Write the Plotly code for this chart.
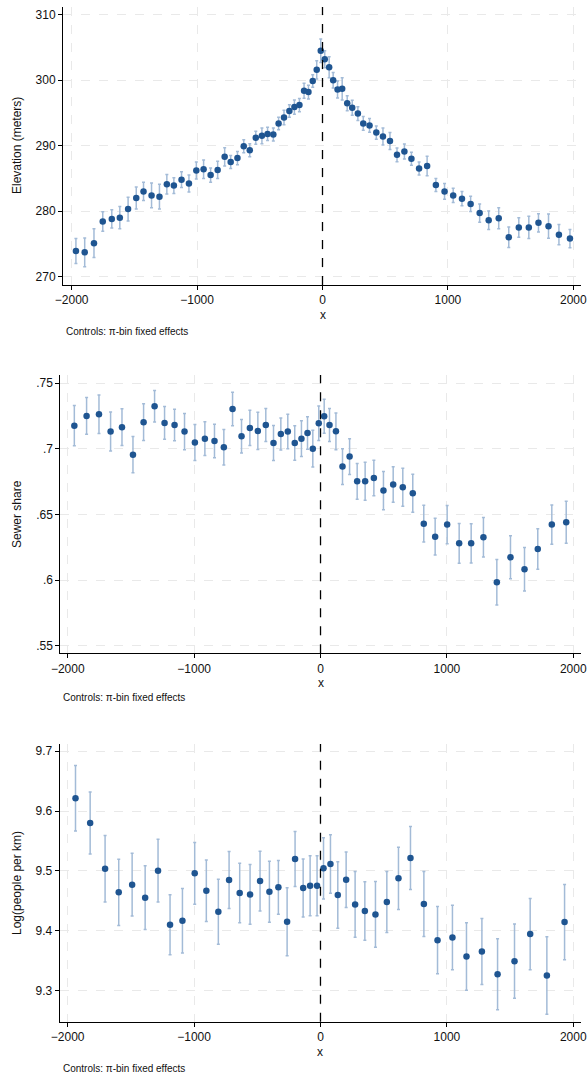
import plotly.graph_objects as go

# ---------------- data ----------------
elev_x = [-1966,-1896,-1822,-1752,-1680,-1616,-1550,-1485,-1427,-1363,
          -1300,-1241,-1185,-1124,-1065,-1006,-948,-892,-836,-780,
          -732,-678,-628,-580,-532,-483,-438,-392,-350,-307,
          -264,-224,-184,-147,-112,-78,-46,-14,18,53,
          85,120,157,197,237,282,325,375,429,482,
          538,594,653,709,770,834,904,973,1042,1112,
          1181,1253,1325,1405,1485,1565,1645,1722,1802,1885,
          1973]
elev_y = [273.9,273.7,275.1,278.4,278.8,279.0,280.3,282.0,283.0,282.4,
          282.2,284.1,283.9,284.8,284.2,286.2,286.4,285.5,286.3,288.3,
          287.5,288.1,289.9,289.3,291.2,291.5,291.8,291.7,293.4,294.3,
          295.3,295.9,296.2,298.4,298.2,299.9,301.6,304.5,303.2,302.0,
          300.0,298.6,298.7,296.5,295.8,294.9,293.4,293.1,292.0,291.4,
          290.7,288.6,289.1,288.0,286.5,286.9,284.0,283.0,282.4,281.9,
          281.1,279.7,278.6,278.9,276.0,277.5,277.5,278.2,277.7,276.4,
          275.8]
elev_ci = [1.9,2.2,2.2,1.5,1.4,1.7,1.8,1.7,1.4,1.9,
           1.9,1.5,1.2,1.2,1.3,1.3,1.4,1.1,1.3,1.4,
           1.0,1.0,1.0,1.0,1.0,1.2,1.0,1.0,0.95,1.1,
           0.95,1.1,1.0,1.15,1.05,0.95,1.4,1.8,1.3,1.6,
           1.2,1.3,1.7,1.15,1.15,1.05,1.05,1.05,1.0,1.3,
           1.3,1.05,1.15,1.0,1.0,1.5,1.0,1.2,1.1,1.1,
           1.15,1.4,1.4,1.6,1.55,1.5,1.7,1.4,1.85,1.55,
           1.4]

sewer_x = [-1948,-1851,-1753,-1661,-1571,-1484,-1400,-1313,-1234,-1155,
           -1076,-994,-915,-839,-765,-696,-625,-559,-496,-433,
           -372,-314,-259,-204,-151,-103,-61,-14,29,71,
           122,174,230,290,353,422,498,575,651,730,
           817,907,1002,1097,1192,1289,1395,1503,1614,1719,
           1830,1944]
sewer_y = [0.7177,0.7251,0.7264,0.7132,0.7165,0.6956,0.7203,0.7325,0.7198,0.7182,
           0.7132,0.7048,0.7078,0.7060,0.7012,0.7304,0.7096,0.7160,0.7137,0.7182,
           0.7045,0.7114,0.7132,0.7045,0.7078,0.7121,0.7001,0.7195,0.7249,0.7182,
           0.7134,0.6865,0.6941,0.6753,0.6753,0.6778,0.6682,0.6728,0.6707,0.6662,
           0.6430,0.6331,0.6423,0.6280,0.6280,0.6326,0.5983,0.6174,0.6082,0.6237,
           0.6423,0.6441]
sewer_ci = [0.0154,0.0140,0.0147,0.0149,0.0140,0.0138,0.0140,0.0120,0.0125,0.0120,
            0.0138,0.0137,0.0128,0.0128,0.0135,0.0128,0.0127,0.0135,0.0142,0.0126,
            0.0133,0.0122,0.0131,0.0131,0.0136,0.0123,0.0140,0.0131,0.0130,0.0125,
            0.0140,0.0136,0.0136,0.0136,0.0145,0.0135,0.0146,0.0135,0.0145,0.0145,
            0.0140,0.0140,0.0146,0.0152,0.0150,0.0151,0.0173,0.0163,0.0166,0.0155,
            0.0149,0.0160]

dens_x = [-1938,-1822,-1704,-1596,-1490,-1387,-1285,-1190,-1092,-995,
          -903,-808,-723,-639,-557,-478,-404,-333,-264,-201,
          -137,-82,-27,24,79,137,203,274,351,435,
          525,617,712,818,926,1044,1155,1277,1401,1535,
          1659,1791,1931]
dens_y = [9.6214,9.5800,9.5037,9.4641,9.4769,9.4552,9.5003,9.4100,9.4167,9.4959,
          9.4669,9.4317,9.4847,9.4630,9.4607,9.4830,9.4652,9.4725,9.4150,9.5199,
          9.4713,9.4752,9.4752,9.5042,9.5115,9.4596,9.4853,9.4440,9.4329,9.4273,
          9.4479,9.4875,9.5215,9.4446,9.3843,9.3888,9.3570,9.3654,9.3274,9.3492,
          9.3944,9.3252,9.4144]
dens_ci = [0.0547,0.0520,0.0555,0.0552,0.0524,0.0533,0.0524,0.0500,0.0540,0.0516,
           0.0513,0.0544,0.0477,0.0496,0.0500,0.0500,0.0510,0.0450,0.0570,0.0460,
           0.0485,0.0500,0.0500,0.0510,0.0490,0.0555,0.0463,0.0550,0.0490,0.0550,
           0.0510,0.0520,0.0527,0.0544,0.0563,0.0538,0.0563,0.0552,0.0594,0.0619,
           0.0594,0.0647,0.0630]

x_ticks = [-2000, -1000, 0, 1000, 2000]
elev_ticks = [270, 280, 290, 300, 310]
elev_ticktext = ["270", "280", "290", "300", "310"]
sewer_ticks = [0.55, 0.60, 0.65, 0.70, 0.75]
sewer_ticktext = [".55", ".6", ".65", ".7", ".75"]
dens_ticks = [9.3, 9.4, 9.5, 9.6, 9.7]
dens_ticktext = ["9.3", "9.4", "9.5", "9.6", "9.7"]

y_titles = ["Elevation (meters)", "Sewer share", "Log(people per km)"]
x_title = "x"
note = "Controls: \u03c0-bin fixed effects"

# ---------------- layout geometry ----------------
W, H = 587, 1076
FONT = "Liberation Sans, Arial, Helvetica, sans-serif"
MARK = "#1f5591"
BAR = "#a3bbd7"
GRID = "#e9e9e9"

panels = [
    dict(x=elev_x, y=elev_y, ci=elev_ci, ticks=elev_ticks, ticktext=elev_ticktext,
         xpx=(63, 581), ypx=(7, 285), xr=[-2069, 2061], yr=[268.7, 311.2],
         title_y=146, xt_y=315, note_y=331, note_x=64),
    dict(x=sewer_x, y=sewer_y, ci=sewer_ci, ticks=sewer_ticks, ticktext=sewer_ticktext,
         xpx=(60.3, 581), ypx=(375, 653.3), xr=[-2059, 2061], yr=[0.5442, 0.7563],
         title_y=514, xt_y=683, note_y=697, note_x=61),
    dict(x=dens_x, y=dens_y, ci=dens_ci, ticks=dens_ticks, ticktext=dens_ticktext,
         xpx=(59.7, 581), ypx=(744, 1021.7), xr=[-2063, 2061], yr=[9.248, 9.712],
         title_y=883, xt_y=1052, note_y=1068, note_x=61),
]

fig = go.Figure()
annotations = []
shapes = []
for i, p in enumerate(panels):
    n = "" if i == 0 else str(i + 1)
    xa, ya = "x" + n, "y" + n
    fig.add_trace(go.Scatter(
        x=p["x"], y=p["y"], mode="markers", xaxis=xa, yaxis=ya,
        marker=dict(color=MARK, size=6.5, line=dict(width=0)),
        error_y=dict(type="data", array=p["ci"], visible=True,
                     color=BAR, thickness=1.5, width=1.5),
        showlegend=False, hoverinfo="x+y"))
    xdom = [p["xpx"][0] / W, p["xpx"][1] / W]
    ydom = [1 - p["ypx"][1] / H, 1 - p["ypx"][0] / H]
    common = dict(showline=True, linecolor="#000000", linewidth=1,
                  ticks="outside", ticklen=4, tickcolor="#000000", tickwidth=1,
                  showgrid=True, gridcolor=GRID, griddash="dash", gridwidth=1,
                  zeroline=False, automargin=False, ticklabeloverflow="allow",
                  tickfont=dict(family=FONT, size=12, color="#111111"))
    fig.layout["xaxis" + n] = dict(domain=xdom, anchor=ya, range=p["xr"],
                                   tickmode="array", tickvals=x_ticks, **common)
    fig.layout["yaxis" + n] = dict(domain=ydom, anchor=xa, range=p["yr"],
                                   tickmode="array", tickvals=p["ticks"],
                                   ticktext=p["ticktext"], **common)
    shapes.append(dict(type="line", xref=xa, yref=ya + " domain", x0=0, x1=0, y0=0, y1=1,
                       line=dict(color="#000000", width=1.3, dash="dash"), layer="above"))
    annotations.append(dict(text=y_titles[i], xref="paper", yref="paper",
                            x=17 / W, y=1 - p["title_y"] / H, textangle=-90,
                            showarrow=False, xanchor="center", yanchor="middle",
                            font=dict(family=FONT, size=12, color="#111111")))
    annotations.append(dict(text=x_title, xref="paper", yref="paper",
                            x=(p["xpx"][0] + (p["xpx"][1] - p["xpx"][0]) *
                               (0 - p["xr"][0]) / (p["xr"][1] - p["xr"][0])) / W,
                            y=1 - p["xt_y"] / H, showarrow=False,
                            xanchor="center", yanchor="middle",
                            font=dict(family=FONT, size=12, color="#111111")))
    annotations.append(dict(text=note, xref="paper", yref="paper",
                            x=p["note_x"] / W, y=1 - p["note_y"] / H, showarrow=False,
                            xanchor="left", yanchor="middle",
                            font=dict(family=FONT, size=10, color="#111111")))

fig.update_layout(width=W, height=H, margin=dict(l=0, r=0, t=0, b=0, autoexpand=False),
                  paper_bgcolor="white", plot_bgcolor="white",
                  annotations=annotations, shapes=shapes,
                  font=dict(family=FONT, size=12, color="#111111"))
fig.write_html("out.html")
